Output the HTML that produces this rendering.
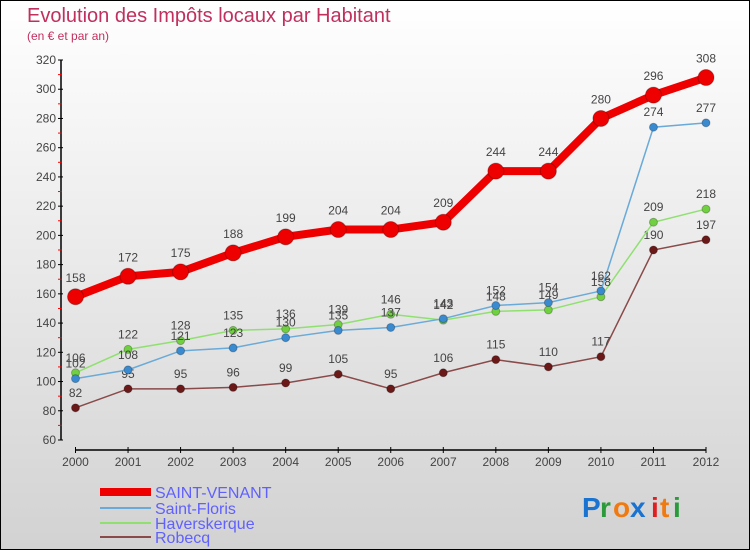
<!DOCTYPE html>
<html><head><meta charset="utf-8"><style>
body{margin:0;width:750px;height:550px;overflow:hidden;font-family:"Liberation Sans",sans-serif}
svg{display:block}
</style></head><body>
<svg id="chart" width="750" height="550" xmlns="http://www.w3.org/2000/svg">
<defs><linearGradient id="bg" x1="0" y1="0" x2="0" y2="1"><stop offset="0" stop-color="#ffffff"/><stop offset="1" stop-color="#d2d2d2"/></linearGradient></defs>
<rect x="0.5" y="0.5" width="749" height="549" fill="url(#bg)" stroke="#000"/>
<text x="27" y="22" font-size="20" fill="#c0305e">Evolution des Impôts locaux par Habitant</text>
<text x="27" y="40" font-size="12" fill="#c0305e">(en € et par an)</text>
<g id="axes"></g><g id="series"></g><g id="legend"></g>
<g font-size="28" font-weight="bold">
<text x="582" y="517" fill="#1a73d0">P</text><text x="600" y="517" fill="#2a9a3a">r</text><text x="613" y="517" fill="#f07a10">o</text><text x="630" y="517" fill="#1a73d0">x</text><text x="651" y="517" fill="#e02020">i</text><text x="660" y="517" fill="#f07a10">t</text><text x="673" y="517" fill="#2a9a3a">i</text>
</g>
</svg>
<script>
const years=[2000,2001,2002,2003,2004,2005,2006,2007,2008,2009,2010,2011,2012];
const saintVenant=[158,172,175,188,199,204,204,209,244,244,280,296,308];
const saintFloris=[102,108,121,123,130,135,137,143,152,154,162,274,277];
const haverskerque=[106,122,128,135,136,139,146,142,148,149,158,209,218];
const robecq=[82,95,95,96,99,105,95,106,115,110,117,190,197];
const yTicks=[60,80,100,120,140,160,180,200,220,240,260,280,300,320];
const NS="http://www.w3.org/2000/svg";
const x=i=>75.5+i*(706-75.5)/12;
const y=v=>440-(v-60)*(380/260);
function mk(t,a,p){const e=document.createElementNS(NS,t);for(const k in a)e.setAttribute(k,a[k]);p.appendChild(e);return e;}
const ax=document.getElementById('axes');
let l=mk('line',{x1:61,y1:60,x2:61,y2:440,stroke:'#000','stroke-width':1.5},ax);


l=mk('line',{x1:75,y1:450,x2:706,y2:450,stroke:'#000','stroke-width':1.5},ax);


yTicks.forEach((v,i)=>{
  mk('line',{x1:58,y1:y(v),x2:63,y2:y(v),stroke:'#000'},ax);
  if(i<yTicks.length-1) mk('line',{x1:58,y1:y(v+10),x2:62,y2:y(v+10),stroke:'#f00'},ax);
  const t=mk('text',{x:56,y:y(v)+4,'font-size':12,fill:'#444','text-anchor':'end'},ax);
  t.textContent=v;
  
  
});
years.forEach((yr,i)=>{
  mk('line',{x1:x(i),y1:447,x2:x(i),y2:453,stroke:'#000'},ax);
  const t=mk('text',{x:x(i),y:466,'font-size':12,fill:'#444','text-anchor':'middle'},ax);
  t.textContent=yr;
  
  
});
const series=[
 {name:'Robecq',data:robecq,color:'#8a4a4a',dot:'#6a1818',w:1.5,r:4},
 {name:'Haverskerque',data:haverskerque,color:'#90e070',dot:'#70d040',w:1.5,r:4},
 {name:'Saint-Floris',data:saintFloris,color:'#6aaad8',dot:'#3a8ad0',w:1.5,r:4},
 {name:'SAINT-VENANT',data:saintVenant,color:'#ee0000',dot:'#ee0000',w:8,r:8}
];
const sg=document.getElementById('series');
series.forEach(s=>{
  const g=mk('g',{},sg);
  
  
  const pl=mk('polyline',{points:s.data.map((v,i)=>x(i)+','+y(v)).join(' '),fill:'none',stroke:s.color,'stroke-width':s.w},g);
  
  
  s.data.forEach((v,i)=>{
    const c=mk('circle',{cx:x(i),cy:y(v),r:s.r,fill:s.dot,stroke:'rgba(0,0,0,0.25)'},g);
    
    
    const t=mk('text',{x:x(i),y:y(v)-(s.r+7),'font-size':12,fill:'#444','text-anchor':'middle'},g);
    t.textContent=v;
    
    
  });
});
const lg=document.getElementById('legend');
[[series[3],492,8],[series[2],508,2],[series[1],523,2],[series[0],537,2]].forEach(([s,yy,w])=>{
  const g=mk('g',{},lg);
  
  
  mk('line',{x1:100,y1:yy,x2:151,y2:yy,stroke:s.color,'stroke-width':w},g);
  const t=mk('text',{x:155,y:yy+6,'font-size':16,fill:'#6060ff'},g);
  t.textContent=s.name;
});
</script>
</body></html>
